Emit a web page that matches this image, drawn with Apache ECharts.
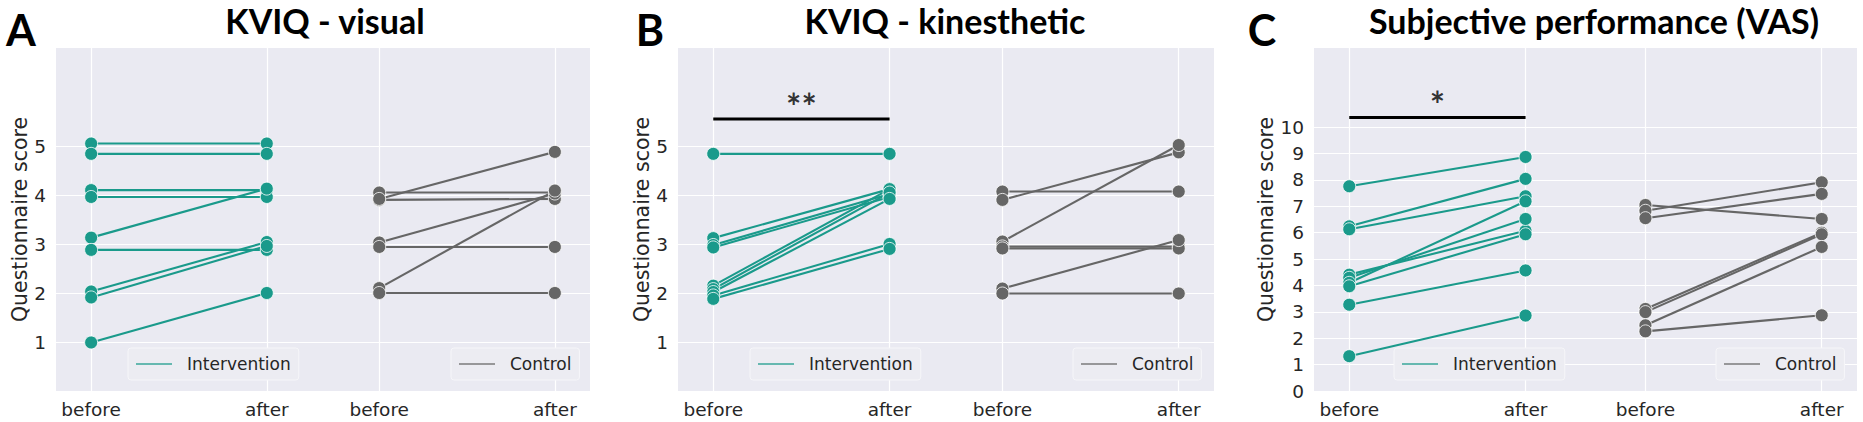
<!DOCTYPE html>
<html>
<head>
<meta charset="utf-8">
<script src="https://cdn.jsdelivr.net/npm/echarts@6/dist/echarts.min.js"></script>
<style>
html, body { margin: 0; padding: 0; background: #fff; }
#main { width: 1863px; height: 422px; }
</style>
</head>
<body>
<div id="main"></div>
<script>
// tick labels / categories
var timeLabels = ['before', 'after', 'before', 'after'];
var xPosAB = [0, 1, 1.64, 2.64];
var xPosC = [0, 1, 1.68, 2.68];
var yTicksKviq = [1, 2, 3, 4, 5];
var yTicksVas = [0, 1, 2, 3, 4, 5, 6, 7, 8, 9, 10];

// A - KVIQ visual
var aIntBefore = [5.05, 4.84, 4.10, 3.96, 3.13, 2.88, 2.03, 1.91, 0.99];
var aIntAfter = [5.05, 4.84, 4.10, 3.96, 4.13, 2.88, 3.04, 2.96, 2.00];
var aCtrlBefore = [4.05, 3.90, 3.92, 3.03, 2.94, 2.10, 2.00];
var aCtrlAfter = [4.05, 3.92, 4.88, 4.03, 2.94, 4.09, 2.00];

// B - KVIQ kinesthetic
var bIntBefore = [4.84, 3.12, 2.98, 2.93, 2.15, 2.08, 2.02, 1.95, 1.88];
var bIntAfter = [4.84, 4.12, 4.02, 3.96, 4.12, 4.05, 3.92, 3.00, 2.90];
var bCtrlBefore = [4.07, 3.90, 3.05, 2.95, 2.91, 2.09, 1.99];
var bCtrlAfter = [4.07, 4.87, 5.02, 2.95, 2.91, 3.08, 1.99];

// C - subjective performance (VAS)
var cIntBefore = [7.76, 6.24, 6.13, 4.41, 4.29, 4.10, 3.97, 3.27, 1.32];
var cIntAfter = [8.87, 8.04, 7.38, 6.07, 6.52, 7.19, 5.94, 4.57, 2.86];
var cCtrlBefore = [7.05, 6.83, 6.55, 3.11, 2.99, 2.49, 2.26];
var cCtrlAfter = [6.52, 7.91, 7.47, 6.00, 5.94, 5.46, 2.87];

// significance bars (level, star height, label)
var sigB = { y: 5.55, starY: 5.98, text: '**' };
var sigC = { y: 10.37, starY: 11.17, text: '*' };

var teal = '#1a9a8b';
var grey = '#666666';
var txt = '#262626';
var tickFont = 'DejaVu Sans';

var chart = echarts.init(document.getElementById('main'), null, { renderer: 'svg' });

var grids = [
    { left: 56, top: 48, width: 534, height: 343 },
    { left: 678, top: 48, width: 536, height: 343 },
    { left: 1314, top: 48, width: 543, height: 343 }
];
grids.forEach(function (g) {
    g.show = true;
    g.backgroundColor = '#eaeaf2';
    g.borderWidth = 0;
});

function makeX(idx, pos) {
    return {
        type: 'value', gridIndex: idx,
        min: -0.2, max: pos[3] + 0.2,
        axisLine: { show: false },
        axisTick: { show: false, customValues: pos },
        splitLine: { show: true, lineStyle: { color: '#ffffff', width: 1.2 } },
        axisLabel: {
            customValues: pos, margin: 9,
            fontFamily: tickFont, fontSize: 18.5, color: txt,
            formatter: function (v) { return timeLabels[pos.indexOf(v)] || ''; }
        }
    };
}
function makeY(idx, max, ticks, gap) {
    return {
        type: 'value', gridIndex: idx, min: 0, max: max,
        name: 'Questionnaire score', nameLocation: 'middle', nameGap: gap,
        nameTextStyle: { fontFamily: tickFont, fontSize: 20.5, color: txt },
        axisLine: { show: false },
        axisTick: { show: false, customValues: ticks },
        splitLine: { show: true, lineStyle: { color: '#ffffff', width: 1.2 } },
        axisLabel: { customValues: ticks, margin: 10, fontFamily: tickFont, fontSize: 18.5, color: txt }
    };
}

var series = [];
function addPairs(idx, before, after, x0, x1, color) {
    for (var i = 0; i < before.length; i++) {
        series.push({
            type: 'line', xAxisIndex: idx, yAxisIndex: idx,
            data: [[x0, before[i]], [x1, after[i]]],
            symbol: 'circle', symbolSize: 13,
            itemStyle: { color: color, borderColor: '#ffffff', borderWidth: 0.8 },
            lineStyle: { color: color, width: 2.1 },
            silent: true, animation: false
        });
    }
}
function addLegendSeries(idx, name, color) {
    series.push({
        type: 'line', name: name, xAxisIndex: idx, yAxisIndex: idx, data: [],
        symbol: 'none', itemStyle: { color: color },
        lineStyle: { color: color, width: 1.5 }
    });
}
function addSig(idx, s) {
    series.push({
        type: 'line', xAxisIndex: idx, yAxisIndex: idx,
        data: [[0, s.y], [1, s.y]], symbol: 'none',
        lineStyle: { color: '#000', width: 3 }, silent: true, animation: false
    });
    series.push({
        type: 'scatter', xAxisIndex: idx, yAxisIndex: idx,
        data: [[0.5, s.starY]], symbolSize: 1,
        itemStyle: { color: 'rgba(0,0,0,0)' },
        label: {
            show: true, position: 'inside', formatter: s.text,
            fontFamily: 'Lato', fontWeight: 'bold', fontSize: 36, color: '#000', offset: [0, 8]
        },
        silent: true, animation: false
    });
}

var xA = xPosAB, xC = xPosC;
addPairs(0, aIntBefore, aIntAfter, xA[0], xA[1], teal);
addPairs(0, aCtrlBefore, aCtrlAfter, xA[2], xA[3], grey);
addPairs(1, bIntBefore, bIntAfter, xA[0], xA[1], teal);
addPairs(1, bCtrlBefore, bCtrlAfter, xA[2], xA[3], grey);
addPairs(2, cIntBefore, cIntAfter, xC[0], xC[1], teal);
addPairs(2, cCtrlBefore, cCtrlAfter, xC[2], xC[3], grey);
addLegendSeries(0, 'Intervention', teal);
addLegendSeries(0, 'Control', grey);
addSig(1, sigB);
addSig(2, sigC);

function legendAt(left, name) {
    return {
        data: [{ name: name, icon: 'rect' }], left: left, top: 348, orient: 'horizontal',
        itemWidth: 36, itemHeight: 1.5, padding: [7, 8, 7, 8],
        backgroundColor: '#ececf2', borderColor: '#f6f6f9', borderWidth: 1, borderRadius: 3,
        selectedMode: false,
        itemStyle: { opacity: 0.85 },
        textStyle: { fontFamily: tickFont, fontSize: 17, color: txt, padding: [0, 0, 0, 10], lineHeight: 18 }
    };
}
var legends = [
    legendAt(128, 'Intervention'), legendAt(451, 'Control'),
    legendAt(750, 'Intervention'), legendAt(1073, 'Control'),
    legendAt(1394, 'Intervention'), legendAt(1716, 'Control')
];

function label(x, y, text, size) {
    return {
        type: 'text', x: x, y: y, silent: true,
        style: {
            text: text, fontFamily: 'Lato', fontWeight: 'bold', fontSize: size,
            fill: '#000', align: 'center', verticalAlign: 'middle'
        }
    };
}

chart.setOption({
    animation: false,
    grid: grids,
    xAxis: [makeX(0, xPosAB), makeX(1, xPosAB), makeX(2, xPosC)],
    yAxis: [makeY(0, 7, yTicksKviq, 26), makeY(1, 7, yTicksKviq, 26), makeY(2, 13, yTicksVas, 38)],
    legend: legends,
    graphic: [
        label(21, 29, 'A', 43), label(650, 29, 'B', 43), label(1262, 29, 'C', 43),
        label(325, 20, 'KVIQ - visual', 34),
        label(945, 20, 'KVIQ - kinesthetic', 34),
        label(1594, 20, 'Subjective performance (VAS)', 34)
    ],
    series: series
});
window.onresize = function () { chart.resize(); };
</script>
</body>
</html>
